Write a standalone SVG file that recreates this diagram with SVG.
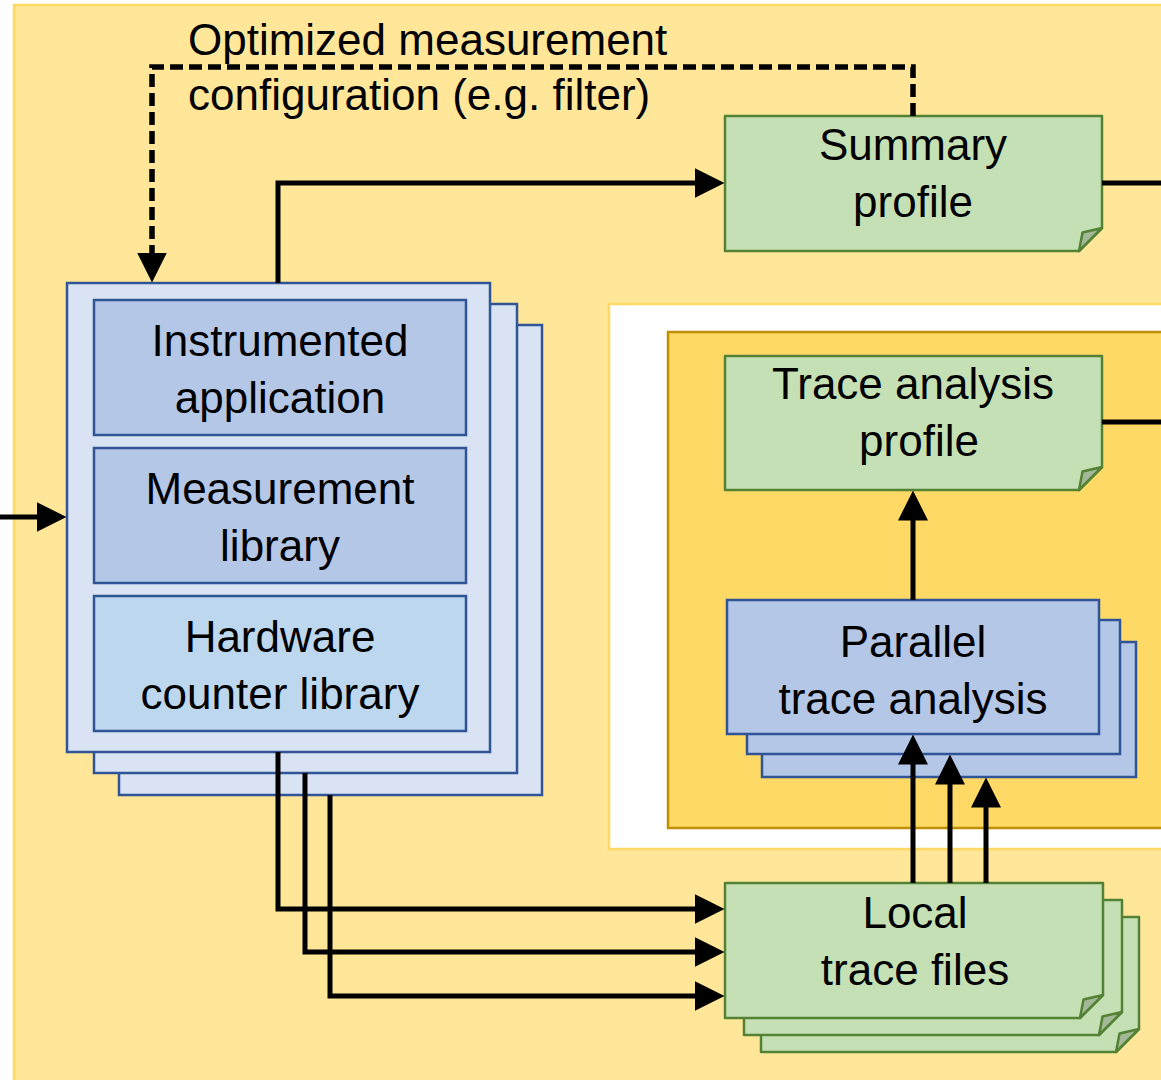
<svg xmlns="http://www.w3.org/2000/svg" width="1161" height="1080" viewBox="0 0 1161 1080">
  <defs>
    <style>
      .t{font-family:'Liberation Sans',Arial,sans-serif;font-size:44px;fill:#000;text-anchor:middle}
      .lbl{font-family:'Liberation Sans',Arial,sans-serif;font-size:44px;fill:#000}
      .note{fill:#C5E0B4;stroke:#548235;stroke-width:2.5;stroke-linejoin:round}
      .fold{fill:#A3B896;stroke:#548235;stroke-width:2.5;stroke-linejoin:round}
      .pane{fill:#DAE3F3;stroke:#2F5597;stroke-width:2.5}
      .mod{fill:#B4C7E7;stroke:#2F5597;stroke-width:2.5}
      .hw{fill:#BDD7EE;stroke:#2F5597;stroke-width:2.5}
      .wire{fill:none;stroke:#000;stroke-width:5}
      .dash{stroke-width:5.5;stroke-dasharray:13 6}
    </style>
    <marker id="arr" markerUnits="userSpaceOnUse" markerWidth="30" markerHeight="30" viewBox="0 0 30 30" refX="0.5" refY="15" orient="auto">
      <path d="M0,0 L30,15 L0,30 Z" fill="#000"/>
    </marker>
  </defs>

  <!-- background regions -->
  <rect x="0" y="0" width="1161" height="1080" fill="#FFFFFF"/>
  <rect id="measurement-area" x="14" y="5" width="1200" height="1100" fill="#FFE699" stroke="#FFD966" stroke-width="2.5"/>
  <rect id="analysis-area" x="609" y="304" width="600" height="545" fill="#FFFFFF" stroke="#FFD966" stroke-width="2.5"/>
  <rect id="analysis-core" x="668" y="332" width="540" height="496" fill="#FFD966" stroke="#BF9000" stroke-width="2.5"/>

  <!-- instrumented application stack -->
  <g id="app-stack">
    <rect class="pane" x="119" y="325" width="423" height="470"/>
    <rect class="pane" x="94" y="304" width="423" height="469"/>
    <rect class="pane" x="67" y="283" width="423" height="469"/>
    <g id="instrumented-app">
      <rect class="mod" x="94" y="300" width="372" height="135"/>
      <text class="t" x="280" y="356">Instrumented</text>
      <text class="t" x="280" y="413">application</text>
    </g>
    <g id="measurement-lib">
      <rect class="mod" x="94" y="448" width="372" height="135"/>
      <text class="t" x="280" y="504">Measurement</text>
      <text class="t" x="280" y="561">library</text>
    </g>
    <g id="hw-counter-lib">
      <rect class="hw" x="94" y="596" width="372" height="135"/>
      <text class="t" x="280" y="652">Hardware</text>
      <text class="t" x="280" y="709">counter library</text>
    </g>
  </g>

  <!-- summary profile -->
  <g id="summary-profile">
    <path class="note" d="M725,116 H1102 V228 L1079,251 H725 Z"/>
    <path class="fold" d="M1079,251 L1082.5,232.5 L1102,228 Z"/>
    <text class="t" x="913" y="160">Summary</text>
    <text class="t" x="913" y="217">profile</text>
  </g>

  <!-- trace analysis profile -->
  <g id="trace-profile">
    <path class="note" d="M725,356 H1102 V467 L1079,490 H725 Z"/>
    <path class="fold" d="M1079,490 L1082.5,471.5 L1102,467 Z"/>
    <text class="t" x="913" y="399">Trace analysis</text>
    <text class="t" x="919" y="456">profile</text>
  </g>

  <!-- parallel trace analysis stack -->
  <g id="parallel-analysis">
    <rect class="mod" x="762" y="642" width="374" height="135"/>
    <rect class="mod" x="747" y="620" width="373" height="134"/>
    <rect class="mod" x="727" y="600" width="372" height="134"/>
    <text class="t" x="913" y="657">Parallel</text>
    <text class="t" x="913" y="714">trace analysis</text>
  </g>

  <!-- local trace files stack -->
  <g id="local-traces">
    <path class="note" d="M761,917 H1139 V1029 L1116,1052 H761 Z"/>
    <path class="fold" d="M1116,1052 L1119.5,1033.5 L1139,1029 Z"/>
    <path class="note" d="M744,900 H1122 V1012 L1099,1035 H744 Z"/>
    <path class="fold" d="M1099,1035 L1102.5,1016.5 L1122,1012 Z"/>
    <path class="note" d="M725,883 H1103 V995 L1080,1018 H725 Z"/>
    <path class="fold" d="M1080,1018 L1083.5,999.5 L1103,995 Z"/>
    <text class="t" x="915" y="928">Local</text>
    <text class="t" x="915" y="985">trace files</text>
  </g>

  <!-- feedback label -->
  <g id="feedback-label">
    <text class="lbl" x="188" y="55">Optimized measurement</text>
    <text class="lbl" x="188" y="110">configuration (e.g. filter)</text>
  </g>

  <!-- connectors -->
  <g id="connectors">
    <path class="wire" d="M0,517 H37" marker-end="url(#arr)"/>
    <path class="wire" d="M278,283 V183 H695" marker-end="url(#arr)"/>
    <path class="wire dash" d="M913,116 V67 H152 V253" marker-end="url(#arr)"/>
    <path class="wire" d="M278,752 V909 H695" marker-end="url(#arr)"/>
    <path class="wire" d="M305,773 V952 H695" marker-end="url(#arr)"/>
    <path class="wire" d="M330,795 V996 H695" marker-end="url(#arr)"/>
    <path class="wire" d="M913,883 V764" marker-end="url(#arr)"/>
    <path class="wire" d="M950,883 V784" marker-end="url(#arr)"/>
    <path class="wire" d="M986,883 V807" marker-end="url(#arr)"/>
    <path class="wire" d="M913,600 V520" marker-end="url(#arr)"/>
    <path class="wire" d="M1102,183 H1161"/>
    <path class="wire" d="M1102,422 H1161"/>
  </g>
</svg>
